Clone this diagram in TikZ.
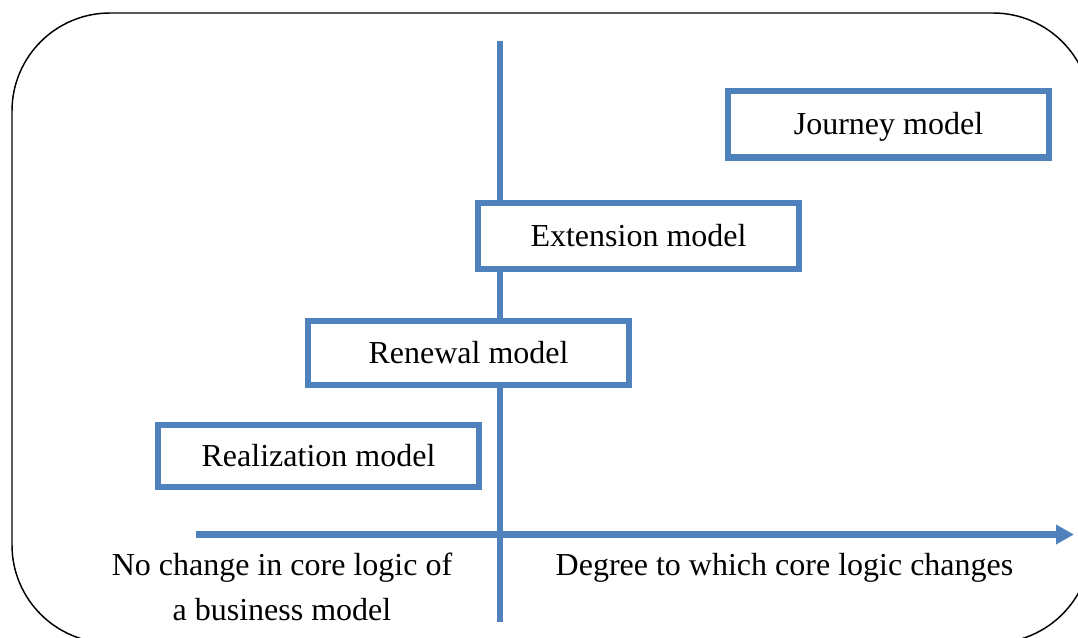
\documentclass[tikz,border=0pt]{standalone}
\usepackage{fontspec}
\setmainfont{Liberation Serif}
\usetikzlibrary{arrows.meta}
\definecolor{axisblue}{HTML}{4F81BD}
\begin{document}
\begin{tikzpicture}[x=0.75pt,y=-0.75pt,
  modelbox/.style={draw=axisblue,line width=4.9pt,fill=white,
    minimum width=240.75pt,minimum height=48.75pt,inner sep=0pt,
    text height=18.5pt,text depth=3pt,
    font=\fontsize{24}{28}\selectfont},
  axisline/.style={draw=axisblue,line width=4.6pt},
  caption/.style={font=\fontsize{24}{33.75}\selectfont,align=center,inner sep=0pt}]
\useasboundingbox (0,0) rectangle (1078,638);
% outer frame, running past the right and bottom edges
\begin{scope}
\clip (0,0) rectangle (1078,638);
\draw[line width=1.1pt,rounded corners=73.5pt] (12,13) rectangle (1091,643);
\end{scope}
% axes
\coordinate (vtop) at (500,41);
\coordinate (vbot) at (500,622);
\coordinate (hleft) at (196,534.5);
\coordinate (hright) at (1074,534.5);
\draw[axisline] (vtop) -- (vbot);
\draw[axisline,-{Triangle[length=13.5pt,width=14pt]}] (hleft) -- (hright);
% model boxes
\node[modelbox,minimum height=49.9pt] (journey) at (888.5,124.25) {Journey model};
\node[modelbox,minimum height=49.5pt] (extension) at (638.5,236) {Extension model};
\node[modelbox,minimum height=48pt] (renewal) at (468.5,353) {Renewal model};
\node[modelbox,minimum height=46.5pt] (realization) at (318.5,456) {Realization model};
% axis captions
\node[caption] (nochange) at (282,587) {No change in core logic of\\a business model};
\node[caption] (degree) at (784.5,567.5) {Degree to which core logic changes};
\end{tikzpicture}
\end{document}
